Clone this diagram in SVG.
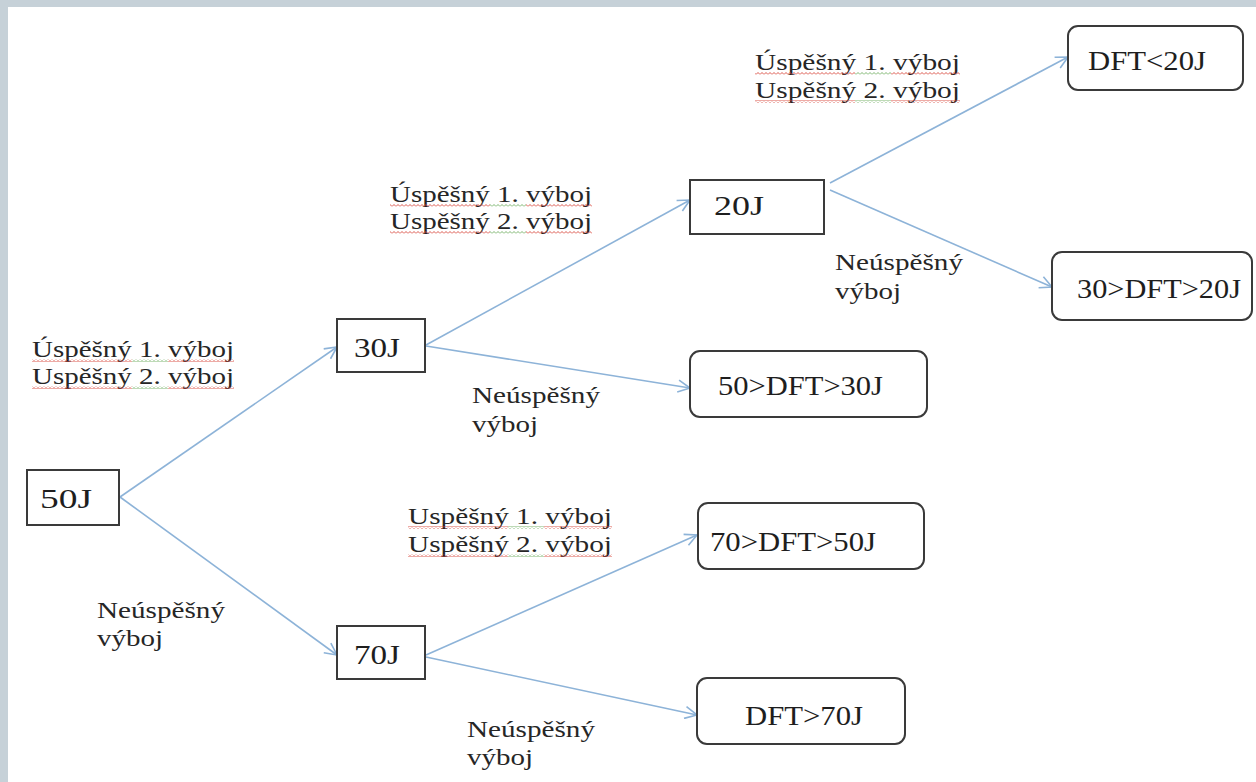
<svg xmlns="http://www.w3.org/2000/svg" width="1256" height="782" viewBox="0 0 1256 782">
<style>
.node{fill:#fff;stroke:#3a3a3a;stroke-width:2}
.nt{font-family:'Liberation Serif','DejaVu Serif',serif;font-size:28px;fill:#1e1e1e}
.lt{font-family:'Liberation Serif','DejaVu Serif',serif;font-size:24px;fill:#262626}
.conn{stroke:#8db3d8;stroke-width:1.6;fill:none}
.wr{fill:url(#waveR)}
.wg{fill:url(#waveG)}
</style>
<defs>
<marker id="arr" viewBox="0 0 14 14" refX="13" refY="7" markerWidth="14" markerHeight="14" markerUnits="userSpaceOnUse" orient="auto">
<path d="M1,1 L13,7 L1,13" fill="none" stroke="#8db3d8" stroke-width="1.6"/>
</marker>
<pattern id="waveR" width="4" height="3" patternUnits="userSpaceOnUse">
<path d="M0,2.5 L2,0.5 L4,2.5" fill="none" stroke="#d8453a" stroke-width="0.9"/>
</pattern>
<pattern id="waveG" width="4" height="3" patternUnits="userSpaceOnUse">
<path d="M0,2.5 L2,0.5 L4,2.5" fill="none" stroke="#6fae5f" stroke-width="0.9"/>
</pattern>
</defs>
<rect x="0" y="0" width="1256" height="782" fill="#c6d1d8"/>
<rect x="8" y="7" width="1248" height="775" fill="#fff"/>

<g id="connectors">
<line class="conn" x1="120" y1="497" x2="337" y2="347" marker-end="url(#arr)"/>
<line class="conn" x1="120" y1="497" x2="337" y2="655" marker-end="url(#arr)"/>
<line class="conn" x1="426" y1="345" x2="690" y2="200" marker-end="url(#arr)"/>
<line class="conn" x1="426" y1="346" x2="690" y2="388" marker-end="url(#arr)"/>
<line class="conn" x1="426" y1="655" x2="697" y2="535" marker-end="url(#arr)"/>
<line class="conn" x1="426" y1="657" x2="697" y2="715" marker-end="url(#arr)"/>
<line class="conn" x1="830" y1="183" x2="1068" y2="57" marker-end="url(#arr)"/>
<line class="conn" x1="830" y1="190" x2="1052" y2="287" marker-end="url(#arr)"/>
</g>

<g id="n50">
<rect class="node" x="27" y="470" width="92" height="55"/>
<text class="nt" x="40" y="508" textLength="52" lengthAdjust="spacingAndGlyphs">50J</text>
</g>
<g id="n30">
<rect class="node" x="337" y="319" width="88" height="53"/>
<text class="nt" x="354" y="357" textLength="46" lengthAdjust="spacingAndGlyphs">30J</text>
</g>
<g id="n70">
<rect class="node" x="337" y="626" width="88" height="53"/>
<text class="nt" x="354" y="664" textLength="46" lengthAdjust="spacingAndGlyphs">70J</text>
</g>
<g id="n20">
<rect class="node" x="690" y="180" width="134" height="54"/>
<text class="nt" x="714" y="215" textLength="50" lengthAdjust="spacingAndGlyphs">20J</text>
</g>
<g id="dft20">
<rect class="node" x="1068" y="26" width="175" height="64" rx="10"/>
<text class="nt" x="1088" y="70" textLength="118" lengthAdjust="spacingAndGlyphs">DFT&lt;20J</text>
</g>
<g id="dft30_20">
<rect class="node" x="1052" y="252" width="200" height="68" rx="10"/>
<text class="nt" x="1077" y="298" textLength="164" lengthAdjust="spacingAndGlyphs">30&gt;DFT&gt;20J</text>
</g>
<g id="dft50_30">
<rect class="node" x="690" y="351" width="237" height="66" rx="10"/>
<text class="nt" x="718" y="395" textLength="165" lengthAdjust="spacingAndGlyphs">50&gt;DFT&gt;30J</text>
</g>
<g id="dft70_50">
<rect class="node" x="698" y="503" width="226" height="66" rx="10"/>
<text class="nt" x="710" y="551" textLength="166" lengthAdjust="spacingAndGlyphs">70&gt;DFT&gt;50J</text>
</g>
<g id="dft70">
<rect class="node" x="697" y="678" width="208" height="66" rx="10"/>
<text class="nt" x="745" y="725" textLength="118" lengthAdjust="spacingAndGlyphs">DFT&gt;70J</text>
</g>

<g id="labels">
<g id="lblA">
<text class="lt" x="32" y="357" textLength="202" lengthAdjust="spacingAndGlyphs">Úspěšný 1. výboj</text>
<text class="lt" x="32" y="384" textLength="202" lengthAdjust="spacingAndGlyphs">Uspěšný 2. výboj</text>
<rect class="wr" x="32" y="359" width="100" height="3"/><rect class="wg" x="132" y="359" width="36" height="3"/><rect class="wr" x="168" y="359" width="66" height="3"/>
<rect class="wr" x="32" y="386" width="100" height="3"/><rect class="wg" x="132" y="386" width="36" height="3"/><rect class="wr" x="168" y="386" width="66" height="3"/>
</g>
<g id="lblB">
<text class="lt" x="390" y="202" textLength="202" lengthAdjust="spacingAndGlyphs">Úspěšný 1. výboj</text>
<text class="lt" x="390" y="229" textLength="202" lengthAdjust="spacingAndGlyphs">Uspěšný 2. výboj</text>
<rect class="wr" x="390" y="204" width="100" height="3"/><rect class="wg" x="490" y="204" width="36" height="3"/><rect class="wr" x="526" y="204" width="66" height="3"/>
<rect class="wr" x="390" y="231" width="100" height="3"/><rect class="wg" x="490" y="231" width="36" height="3"/><rect class="wr" x="526" y="231" width="66" height="3"/>
</g>
<g id="lblC">
<text class="lt" x="755" y="70" textLength="205" lengthAdjust="spacingAndGlyphs">Úspěšný 1. výboj</text>
<text class="lt" x="755" y="98" textLength="205" lengthAdjust="spacingAndGlyphs">Uspěšný 2. výboj</text>
<rect class="wr" x="755" y="72" width="100" height="3"/><rect class="wg" x="855" y="72" width="36" height="3"/><rect class="wr" x="891" y="72" width="69" height="3"/>
<rect class="wr" x="755" y="100" width="100" height="3"/><rect class="wg" x="855" y="100" width="36" height="3"/><rect class="wr" x="891" y="100" width="69" height="3"/>
</g>
<g id="lblD">
<text class="lt" x="408" y="524" textLength="204" lengthAdjust="spacingAndGlyphs">Uspěšný 1. výboj</text>
<text class="lt" x="408" y="552" textLength="204" lengthAdjust="spacingAndGlyphs">Uspěšný 2. výboj</text>
<rect class="wr" x="408" y="526" width="100" height="3"/><rect class="wg" x="508" y="526" width="36" height="3"/><rect class="wr" x="544" y="526" width="68" height="3"/>
<rect class="wr" x="408" y="554" width="100" height="3"/><rect class="wg" x="508" y="554" width="36" height="3"/><rect class="wr" x="544" y="554" width="68" height="3"/>
</g>
<g id="lblE">
<text class="lt" x="97" y="618" textLength="128" lengthAdjust="spacingAndGlyphs">Neúspěšný</text>
<text class="lt" x="97" y="646" textLength="66" lengthAdjust="spacingAndGlyphs">výboj</text>
</g>
<g id="lblF">
<text class="lt" x="472" y="403" textLength="128" lengthAdjust="spacingAndGlyphs">Neúspěšný</text>
<text class="lt" x="472" y="432" textLength="66" lengthAdjust="spacingAndGlyphs">výboj</text>
</g>
<g id="lblG">
<text class="lt" x="835" y="270" textLength="128" lengthAdjust="spacingAndGlyphs">Neúspěšný</text>
<text class="lt" x="835" y="299" textLength="66" lengthAdjust="spacingAndGlyphs">výboj</text>
</g>
<g id="lblH">
<text class="lt" x="467" y="737" textLength="128" lengthAdjust="spacingAndGlyphs">Neúspěšný</text>
<text class="lt" x="467" y="765" textLength="66" lengthAdjust="spacingAndGlyphs">výboj</text>
</g>
</g>
</svg>
